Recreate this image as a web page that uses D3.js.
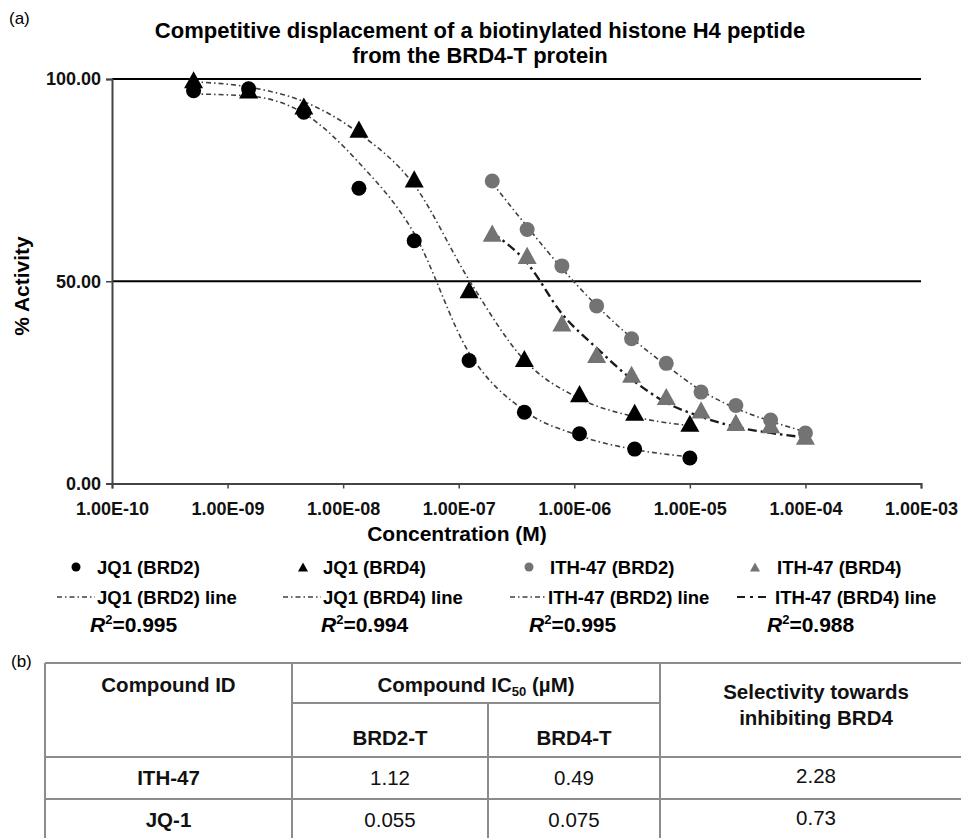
<!DOCTYPE html>
<html><head><meta charset="utf-8">
<script src="https://cdn.jsdelivr.net/npm/d3@7"></script>
<style>body{margin:0;background:#fff}svg{display:block}text{font-family:"Liberation Sans",Arial,sans-serif}</style>
</head><body><svg id="c" width="961" height="838"></svg>
<script>
// ---- data ----
const concJQ1 = [5.08e-10, 1.52e-9, 4.57e-9, 1.37e-8, 4.12e-8, 1.23e-7, 3.70e-7, 1.11e-6, 3.33e-6, 1.00e-5];
const concITH = [1.95e-7, 3.91e-7, 7.81e-7, 1.56e-6, 3.13e-6, 6.25e-6, 1.25e-5, 2.50e-5, 5.00e-5, 1.00e-4];
const jq1Brd2 = [97.1, 97.6, 91.8, 73.0, 60.0, 30.4, 17.6, 12.3, 8.5, 6.3];
const jq1Brd4 = [99.3, 96.8, 92.8, 87.1, 74.8, 47.4, 30.4, 21.7, 17.1, 14.4];
const ith47Brd2 = [74.8, 62.8, 53.8, 43.9, 35.8, 29.7, 22.6, 19.3, 15.7, 12.5];
const ith47Brd4 = [61.4, 55.9, 39.2, 31.4, 26.5, 21.0, 17.7, 14.6, 14.0, 11.2];
const jq1Brd2Fit = [96.3, 95.8, 91.5, 79.3, 61.8, 32.3, 18.0, 11.8, 8.4, 6.6];
const jq1Brd4Fit = [99.3, 98.0, 94.4, 86.6, 73.8, 50.3, 30.5, 21.0, 16.5, 14.3];
const ith47Brd2Fit = [74.3, 63.5, 53.2, 44.0, 36.0, 29.2, 23.0, 18.6, 15.4, 12.8];
const ith47Brd4Fit = [62.0, 54.5, 42.0, 33.5, 25.8, 20.0, 16.5, 14.0, 12.5, 11.4];
const xTickValues = [1e-10, 1e-9, 1e-8, 1e-7, 1e-6, 1e-5, 1e-4, 1e-3];
const xTickLabels = ["1.00E-10","1.00E-09","1.00E-08","1.00E-07","1.00E-06","1.00E-05","1.00E-04","1.00E-03"];
const yTickValues = [0, 50, 100];
const yTickLabels = ["0.00","50.00","100.00"];
const seriesNames = ["JQ1 (BRD2)","JQ1 (BRD4)","ITH-47 (BRD2)","ITH-47 (BRD4)"];
const rSquared = ["0.995","0.994","0.995","0.988"];
const tableHeader = ["Compound ID","Compound IC","50"," (µM)","BRD2-T","BRD4-T","Selectivity towards","inhibiting BRD4"];
const tableCompounds = ["ITH-47","JQ-1"];
const tableBRD2 = ["1.12","0.055"];
const tableBRD4 = ["0.49","0.075"];
const tableSelectivity = ["2.28","0.73"];

// ---- drawing ----
const svg = d3.select("#c");
const FONT = '"Liberation Sans",Arial,sans-serif';
const x = d3.scaleLog().domain([1e-10, 1e-3]).range([112, 921]);
const y = d3.scaleLinear().domain([0, 100]).range([483.5, 79]);
const black = "#000", gray = "#737373";

svg.append("text").attr("x", 9).attr("y", 24).attr("font-size", 17).text("(a)");
svg.append("text").attr("x", 480).attr("y", 38).attr("text-anchor","middle").attr("font-size",22).attr("font-weight","bold")
  .text("Competitive displacement of a biotinylated histone H4 peptide");
svg.append("text").attr("x", 480).attr("y", 63).attr("text-anchor","middle").attr("font-size",22).attr("font-weight","bold")
  .text("from the BRD4-T protein");

// grid lines
svg.append("g").selectAll("line").data([50, 100]).join("line")
  .attr("x1", 112).attr("x2", 921).attr("y1", d => y(d)).attr("y2", d => y(d))
  .attr("stroke", "#000").attr("stroke-width", 2);

// axes
const gx = svg.append("g").attr("transform", `translate(0,${y(0)})`)
  .call(d3.axisBottom(x).tickValues(xTickValues).tickFormat((d,i)=>xTickLabels[i]).tickSize(5).tickPadding(14));
gx.select(".domain").attr("stroke","#444").attr("stroke-width",2);
gx.selectAll(".tick line").attr("stroke","#444").attr("stroke-width",1.5);
gx.selectAll(".tick text").attr("font-family",FONT).attr("font-size",18).attr("font-weight","bold").attr("fill","#111");
const gy = svg.append("g").attr("transform", `translate(112,0)`)
  .call(d3.axisLeft(y).tickValues(yTickValues).tickFormat((d,i)=>yTickLabels[i]).tickSize(6).tickPadding(5));
gy.select(".domain").attr("stroke","#444").attr("stroke-width",2);
gy.selectAll(".tick line").attr("stroke","#444").attr("stroke-width",1.5);
gy.selectAll(".tick text").attr("font-family",FONT).attr("font-size",18).attr("font-weight","bold").attr("fill","#111");

svg.append("text").attr("transform","translate(29,286) rotate(-90)").attr("text-anchor","middle")
  .attr("font-size",21).attr("font-weight","bold").text("% Activity");
svg.append("text").attr("x",457).attr("y",541).attr("text-anchor","middle")
  .attr("font-size",21).attr("font-weight","bold").text("Concentration (M)");

// fit lines
const lineGen = d3.line().x(d => x(d[0])).y(d => y(d[1])).curve(d3.curveMonotoneX);
const fits = [
  {c: concJQ1, v: jq1Brd2Fit, dash: "5,3,1.5,3", w: 1.6, col: "#404040"},
  {c: concJQ1, v: jq1Brd4Fit, dash: "5,3,1.5,3", w: 1.6, col: "#404040"},
  {c: concITH, v: ith47Brd2Fit, dash: "5,3,1.5,3", w: 1.6, col: "#404040"},
  {c: concITH, v: ith47Brd4Fit, dash: "9,4,2.5,4", w: 2.4, col: "#1a1a1a"}
];
fits.forEach(f => {
  svg.append("path").datum(f.c.map((c,i)=>[c, f.v[i]])).attr("d", lineGen)
    .attr("fill","none").attr("stroke",f.col).attr("stroke-width",f.w).attr("stroke-dasharray",f.dash);
});

// markers
const tri = (s) => { const h = s*0.9; return `M0,${-h*0.62}L${s/2},${h*0.38}L${-s/2},${h*0.38}Z`; };
function triangles(conc, vals, col) {
  svg.append("g").selectAll("path").data(conc.map((c,i)=>[c, vals[i]])).join("path")
    .attr("transform", d => `translate(${x(d[0])},${y(d[1])})`).attr("d", tri(19)).attr("fill", col);
}
function circles(conc, vals, col) {
  svg.append("g").selectAll("circle").data(conc.map((c,i)=>[c, vals[i]])).join("circle")
    .attr("cx", d => x(d[0])).attr("cy", d => y(d[1])).attr("r", 7.5).attr("fill", col);
}
triangles(concJQ1, jq1Brd4, black);
circles(concJQ1, jq1Brd2, black);
triangles(concITH, ith47Brd4, gray);
circles(concITH, ith47Brd2, gray);

// legend
const legCols = [
  {mx: 76, tx: 97, lx1: 57, lx2: 95, ltx: 97, rx: 90, shape: "c", col: black, dash: "5,3,1.5,3", w: 1.6, lcol:"#404040"},
  {mx: 303, tx: 323, lx1: 283, lx2: 321, ltx: 323, rx: 321, shape: "t", col: black, dash: "5,3,1.5,3", w: 1.6, lcol:"#404040"},
  {mx: 529, tx: 550, lx1: 510, lx2: 546, ltx: 548, rx: 529, shape: "c", col: gray, dash: "5,3,1.5,3", w: 1.6, lcol:"#404040"},
  {mx: 755, tx: 777, lx1: 737, lx2: 769, ltx: 775, rx: 767, shape: "t", col: gray, dash: "8,5,3,5", w: 2, lcol:"#1a1a1a"}
];
legCols.forEach((L, i) => {
  if (L.shape === "c") svg.append("circle").attr("cx", L.mx).attr("cy", 567).attr("r", 4.5).attr("fill", L.col);
  else svg.append("path").attr("transform", `translate(${L.mx},568)`).attr("d", tri(10)).attr("fill", L.col);
  svg.append("text").attr("x", L.tx).attr("y", 574).attr("font-size", 18.5).attr("font-weight","bold").text(seriesNames[i]);
  svg.append("line").attr("x1", L.lx1).attr("x2", L.lx2).attr("y1", 597).attr("y2", 597)
    .attr("stroke", L.lcol).attr("stroke-width", L.w).attr("stroke-dasharray", L.dash);
  svg.append("text").attr("x", L.ltx).attr("y", 604).attr("font-size", 18.5).attr("font-weight","bold").text(seriesNames[i] + " line");
  const t = svg.append("text").attr("x", L.rx).attr("y", 632).attr("font-size", 21).attr("font-weight","bold");
  t.append("tspan").attr("font-style","italic").text("R");
  t.append("tspan").attr("font-size", 13).attr("dy", -8).text("2");
  t.append("tspan").attr("dy", 8).text("=" + rSquared[i]);
});

// table (b)
svg.append("text").attr("x", 11).attr("y", 667).attr("font-size", 17).text("(b)");
const tg = svg.append("g").attr("stroke", "#8c8c8c").attr("stroke-width", 2);
const tL = 45, tR = 972, c1 = 292, c2 = 488, c3 = 660, rTop = 663, rSub = 703, rHead = 757, r1 = 799, rBot = 842;
[[tL,rTop,tR,rTop],[c1,rSub,c3,rSub],[tL,rHead,tR,rHead],[tL,r1,tR,r1],[tL,rBot,tR,rBot],
 [tL,rTop,tL,rBot],[c1,rTop,c1,rBot],[c2,rSub,c2,rBot],[c3,rTop,c3,rBot]].forEach(s => {
  tg.append("line").attr("x1", s[0]).attr("y1", s[1]).attr("x2", s[2]).attr("y2", s[3]);
});
const TF = 20.5;
function cell(txt, cx, cy, bold) {
  svg.append("text").attr("x", cx).attr("y", cy + TF*0.36).attr("text-anchor","middle")
    .attr("font-size", TF).attr("font-weight", bold ? "bold" : "normal").attr("fill","#111").text(txt);
}
cell(tableHeader[0], (tL+c1)/2, 685, true);
const ic = svg.append("text").attr("x", (c1+c3)/2).attr("y", 685 + TF*0.36).attr("text-anchor","middle")
  .attr("font-size", TF).attr("font-weight","bold").attr("fill","#111");
ic.append("tspan").text(tableHeader[1]);
ic.append("tspan").attr("font-size", 13).attr("dy", 4).text(tableHeader[2]);
ic.append("tspan").attr("dy", -4).text(tableHeader[3]);
cell(tableHeader[4], (c1+c2)/2, 738, true);
cell(tableHeader[5], (c2+c3)/2, 738, true);
cell(tableHeader[6], 816, 692, true);
cell(tableHeader[7], 816, 718, true);
const rowY = [778, 820];
tableCompounds.forEach((n, i) => {
  cell(n, (tL+c1)/2, rowY[i], true);
  cell(tableBRD2[i], (c1+c2)/2, rowY[i], false);
  cell(tableBRD4[i], (c2+c3)/2, rowY[i], false);
  cell(tableSelectivity[i], 816, rowY[i] - 2, false);
});
</script></body></html>
